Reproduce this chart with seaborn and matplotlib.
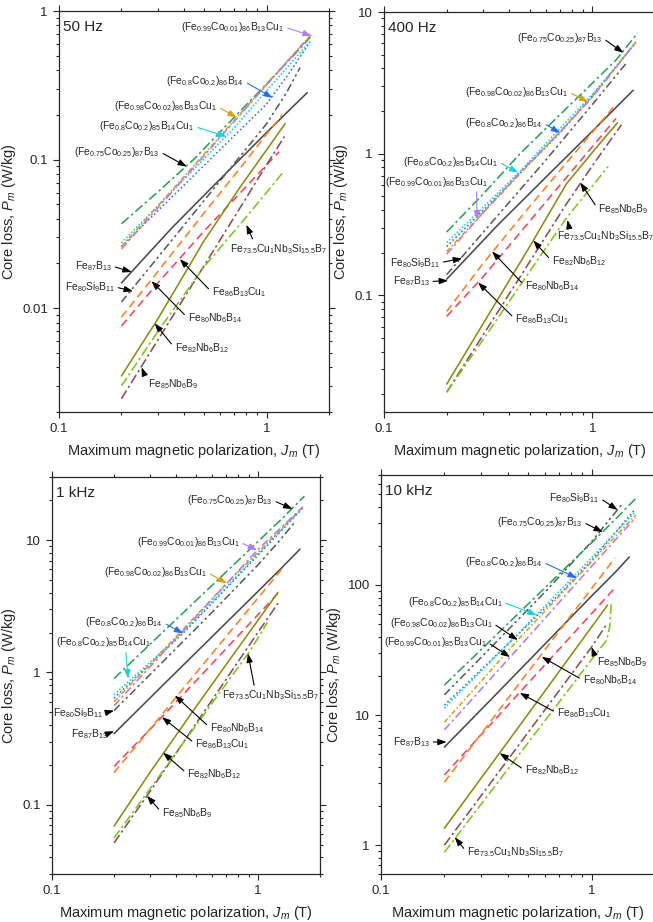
import pandas as pd
import matplotlib
matplotlib.use("Agg")
import matplotlib.pyplot as plt
import matplotlib.ticker as mticker
import seaborn as sns

# alloys, in drawing order
materials = ["Fe87B13", "Fe80Si9B11", "Fe86B13Cu1", "Fe80Nb6B14", "Fe82Nb6B12",
             "Fe85Nb6B9", "Fe73.5Cu1Nb3Si15.5B7", "(Fe0.75Co0.25)87B13",
             "(Fe0.8Co0.2)86B14", "(Fe0.8Co0.2)85B14Cu1",
             "(Fe0.98Co0.02)86B13Cu1", "(Fe0.99Co0.01)86B13Cu1"]

labels = {
    "Fe87B13": r"Fe$_{87}$B$_{13}$",
    "Fe80Si9B11": r"Fe$_{80}$Si$_9$B$_{11}$",
    "Fe86B13Cu1": r"Fe$_{86}$B$_{13}$Cu$_1$",
    "Fe80Nb6B14": r"Fe$_{80}$Nb$_6$B$_{14}$",
    "Fe82Nb6B12": r"Fe$_{82}$Nb$_6$B$_{12}$",
    "Fe85Nb6B9": r"Fe$_{85}$Nb$_6$B$_9$",
    "Fe73.5Cu1Nb3Si15.5B7": r"Fe$_{73.5}$Cu$_1$Nb$_3$Si$_{15.5}$B$_7$",
    "(Fe0.75Co0.25)87B13": r"(Fe$_{0.75}$Co$_{0.25}$)$_{87}$B$_{13}$",
    "(Fe0.8Co0.2)86B14": r"(Fe$_{0.8}$Co$_{0.2}$)$_{86}$B$_{14}$",
    "(Fe0.8Co0.2)85B14Cu1": r"(Fe$_{0.8}$Co$_{0.2}$)$_{85}$B$_{14}$Cu$_1$",
    "(Fe0.98Co0.02)86B13Cu1": r"(Fe$_{0.98}$Co$_{0.02}$)$_{86}$B$_{13}$Cu$_1$",
    "(Fe0.99Co0.01)86B13Cu1": r"(Fe$_{0.99}$Co$_{0.01}$)$_{86}$B$_{13}$Cu$_1$",
    "(Fe0.99Co0.01)85B13Cu1": r"(Fe$_{0.99}$Co$_{0.01}$)$_{85}$B$_{13}$Cu$_1$",
}

colors = ["#4a4a4a", "#5c5c5c", "#f0485a", "#ff7f24", "#8c8c14", "#8b4f4f",
          "#7cc424", "#2ca05a", "#2a6fe0", "#1ccfe0", "#d4a017", "#b07cf0"]
dash_list = ["", (5, 2, 1.5, 2, 1.5, 2), (5, 3), (5, 3), "", (6, 2, 1.5, 2),
             (6, 2, 1.5, 2), (6, 2, 1.5, 2), (1, 1.6), (1, 1.2), (3, 1.5, 1, 1.5),
             (5, 2, 1.5, 2)]

# ---- 50 Hz : J (T) and P (W/kg) ----
hz50_J = [
    [0.2, 0.35, 0.6, 1.0, 1.3, 1.57],
    [0.2, 0.35, 0.6, 1.0, 1.25, 1.45],
    [0.2, 0.3, 0.5, 0.8, 1.0, 1.15],
    [0.2, 0.3, 0.5, 0.8, 1.0, 1.19],
    [0.2, 0.3, 0.5, 0.75, 1.0, 1.23],
    [0.2, 0.3, 0.5, 0.75, 1.0, 1.22],
    [0.2, 0.3, 0.5, 0.75, 1.0, 1.2],
    [0.2, 0.3, 0.45, 0.7, 1.0, 1.3, 1.63],
    [0.2, 0.3, 0.45, 0.7, 1.0, 1.3, 1.62],
    [0.2, 0.3, 0.45, 0.7, 1.0, 1.3, 1.62],
    [0.2, 0.3, 0.45, 0.7, 1.0, 1.3, 1.62],
    [0.2, 0.3, 0.45, 0.7, 1.0, 1.3, 1.64],
]
hz50_P = [
    [0.0148, 0.0347, 0.0743, 0.152, 0.218, 0.282],
    [0.011, 0.0287, 0.0724, 0.174, 0.283, 0.416],
    [0.0076, 0.0148, 0.033, 0.066, 0.092, 0.113],
    [0.0087, 0.0177, 0.0437, 0.099, 0.148, 0.2],
    [0.0035, 0.0085, 0.0284, 0.066, 0.116, 0.175],
    [0.00246, 0.00613, 0.0193, 0.048, 0.092, 0.143],
    [0.003, 0.007, 0.019, 0.037, 0.06, 0.082],
    [0.037, 0.0607, 0.1015, 0.193, 0.323, 0.474, 0.67],
    [0.026, 0.0453, 0.079, 0.145, 0.236, 0.39, 0.62],
    [0.0275, 0.049, 0.087, 0.164, 0.29, 0.44, 0.625],
    [0.026, 0.049, 0.092, 0.184, 0.32, 0.484, 0.68],
    [0.025, 0.0475, 0.09, 0.181, 0.318, 0.48, 0.69],
]

# ---- 400 Hz ----
hz400_J = [
    [0.2, 0.35, 0.6, 1.0, 1.3, 1.57],
    [0.2, 0.35, 0.6, 1.0, 1.25, 1.45],
    [0.2, 0.3, 0.5, 0.8, 1.05, 1.3],
    [0.2, 0.3, 0.5, 0.8, 1.05, 1.28],
    [0.2, 0.3, 0.5, 0.75, 1.0, 1.2, 1.32],
    [0.2, 0.3, 0.5, 0.75, 1.0, 1.2, 1.38],
    [0.2, 0.3, 0.5, 0.75, 1.0, 1.19],
    [0.2, 0.3, 0.45, 0.7, 1.0, 1.3, 1.65],
    [0.2, 0.3, 0.45, 0.7, 1.0, 1.3, 1.62],
    [0.2, 0.3, 0.45, 0.7, 1.0, 1.3, 1.62],
    [0.2, 0.3, 0.45, 0.7, 1.0, 1.3, 1.62],
    [0.2, 0.3, 0.45, 0.7, 1.0, 1.3, 1.62],
]
hz400_P = [
    [0.13, 0.311, 0.684, 1.44, 2.12, 2.8],
    [0.14, 0.363, 0.906, 2.22, 3.31, 4.32],
    [0.071, 0.136, 0.333, 0.757, 1.22, 1.77],
    [0.077, 0.169, 0.423, 0.96, 1.545, 2.18],
    [0.0236, 0.0635, 0.22, 0.61, 1.02, 1.4, 1.65],
    [0.0207, 0.0528, 0.172, 0.44, 0.82, 1.2, 1.6],
    [0.0207, 0.049, 0.147, 0.35, 0.59, 0.81],
    [0.28, 0.52, 1.0, 1.886, 3.14, 4.58, 7.1],
    [0.221, 0.40, 0.73, 1.4, 2.57, 4.13, 6.1],
    [0.236, 0.42, 0.75, 1.51, 2.62, 4.1, 6.1],
    [0.204, 0.384, 0.72, 1.43, 2.52, 4.09, 6.15],
    [0.195, 0.385, 0.74, 1.42, 2.5, 4.05, 6.2],
]

# ---- 1 kHz ----
khz1_J = [
    [0.2, 0.35, 0.6, 1.0, 1.3, 1.6],
    [0.2, 0.35, 0.6, 1.0, 1.25, 1.5],
    [0.2, 0.3, 0.5, 0.8, 1.05, 1.25],
    [0.2, 0.3, 0.5, 0.8, 1.05, 1.3],
    [0.2, 0.3, 0.5, 0.75, 1.0, 1.25],
    [0.2, 0.3, 0.5, 0.75, 1.0, 1.25],
    [0.2, 0.3, 0.5, 0.75, 0.9, 1.0, 1.11],
    [0.2, 0.3, 0.45, 0.7, 1.0, 1.3, 1.68],
    [0.2, 0.3, 0.45, 0.7, 1.0, 1.3, 1.65],
    [0.2, 0.3, 0.45, 0.7, 1.0, 1.3, 1.65],
    [0.2, 0.3, 0.45, 0.7, 1.0, 1.3, 1.65],
    [0.2, 0.3, 0.45, 0.7, 1.0, 1.3, 1.65],
]
khz1_P = [
    [0.345, 0.818, 1.87, 4.1, 6.15, 8.56],
    [0.515, 1.23, 2.86, 6.5, 9.6, 13.5],
    [0.195, 0.373, 0.864, 1.89, 2.96, 3.96],
    [0.175, 0.376, 0.99, 2.4, 4.0, 6.0],
    [0.069, 0.177, 0.55, 1.33, 2.48, 4.03],
    [0.0515, 0.127, 0.41, 1.04, 2.01, 3.33],
    [0.056, 0.133, 0.398, 0.95, 1.4, 1.82, 2.39],
    [0.9, 1.64, 2.99, 5.74, 9.76, 14.4, 21.5],
    [0.64, 1.16, 2.1, 4.31, 7.7, 11.8, 17.5],
    [0.68, 1.2, 2.15, 4.4, 7.9, 12.0, 17.6],
    [0.6, 1.16, 2.26, 4.66, 8.1, 12.2, 17.8],
    [0.56, 1.11, 2.2, 4.65, 8.5, 12.5, 17.8],
]

# ---- 10 kHz ----
khz10_J = [
    [0.2, 0.35, 0.6, 1.0, 1.3, 1.51],
    [0.2, 0.35, 0.6, 1.0, 1.2, 1.4],
    [0.2, 0.3, 0.5, 0.8, 1.05, 1.29],
    [0.2, 0.3, 0.5, 0.8, 1.05, 1.29],
    [0.2, 0.3, 0.5, 0.75, 1.0, 1.19],
    [0.2, 0.3, 0.5, 0.75, 1.0, 1.18],
    [0.2, 0.3, 0.5, 0.75, 1.0, 1.18, 1.22, 1.24],
    [0.2, 0.3, 0.45, 0.7, 1.0, 1.3, 1.63],
    [0.2, 0.3, 0.45, 0.7, 1.0, 1.3, 1.6],
    [0.2, 0.3, 0.45, 0.7, 1.0, 1.3, 1.6],
    [0.2, 0.3, 0.45, 0.7, 1.0, 1.3, 1.62],
    [0.2, 0.3, 0.45, 0.7, 1.0, 1.3, 1.62],
]
khz10_P = [
    [5.67, 14.3, 35.1, 82.2, 126, 164],
    [14.3, 36, 88, 215, 310, 420],
    [3.46, 7.11, 17.6, 40.5, 65.7, 95],
    [3.05, 7.23, 21.5, 58.6, 104, 161],
    [1.35, 3.3, 10.2, 25.1, 47.5, 70],
    [1.0, 2.42, 7.37, 17.8, 33.3, 50],
    [0.88, 2.08, 6.14, 14.5, 26.7, 37.8, 48, 72],
    [17, 32, 60.5, 121, 211, 321, 467],
    [11.9, 22.4, 42.1, 84, 154, 254, 377],
    [11.3, 21.9, 42.5, 88.9, 162, 253, 360],
    [8.8, 18.3, 38.3, 81.8, 151, 237, 345],
    [7.7, 15.9, 32.9, 73.2, 139, 223, 330],
]

# annotations: label, text x, text y, arrow tip x, tip y, alignment, arrow colour
notes_50hz = [
    ("(Fe0.99Co0.01)86B13Cu1", 1.22, 0.78, 1.65, 0.68, "right", "#b07cf0"),
    ("(Fe0.8Co0.2)86B14", 0.78, 0.337, 1.07, 0.26, "right", "#2a6fe0"),
    ("(Fe0.98Co0.02)86B13Cu1", 0.58, 0.228, 0.718, 0.192, "right", "#d4a017"),
    ("(Fe0.8Co0.2)85B14Cu1", 0.45, 0.167, 0.64, 0.143, "right", "#1ccfe0"),
    ("(Fe0.75Co0.25)87B13", 0.306, 0.113, 0.413, 0.0897, "right", "k"),
    ("Fe87B13", 0.18, 0.0192, 0.224, 0.0175, "right", "k"),
    ("Fe80Si9B11", 0.186, 0.0139, 0.227, 0.013, "right", "k"),
    ("Fe86B13Cu1", 0.545, 0.0128, 0.382, 0.0214, "left", "k"),
    ("Fe80Nb6B14", 0.417, 0.0086, 0.279, 0.0152, "left", "k"),
    ("Fe82Nb6B12", 0.361, 0.0054, 0.289, 0.0079, "left", "k"),
    ("Fe85Nb6B9", 0.268, 0.0031, 0.25, 0.004, "left", "k"),
    ("Fe73.5Cu1Nb3Si15.5B7", 0.664, 0.025, 0.8, 0.0364, "left", "k"),
]
notes_400hz = [
    ("(Fe0.75Co0.25)87B13", 1.12, 6.56, 1.41, 5.15, "right", "k"),
    ("(Fe0.98Co0.02)86B13Cu1", 0.768, 2.73, 0.955, 2.32, "right", "#d4a017"),
    ("(Fe0.8Co0.2)86B14", 0.58, 1.65, 0.7, 1.4, "right", "#2a6fe0"),
    ("(Fe0.8Co0.2)85B14Cu1", 0.353, 0.878, 0.441, 0.735, "right", "#1ccfe0"),
    ("(Fe0.99Co0.01)86B13Cu1", 0.178, 0.635, 0.28, 0.343, "center", "#b07cf0"),
    ("Fe85Nb6B9", 1.07, 0.403, 0.875, 0.625, "left", "k"),
    ("Fe73.5Cu1Nb3Si15.5B7", 0.68, 0.26, 0.76, 0.34, "left", "k"),
    ("Fe82Nb6B12", 0.64, 0.174, 0.52, 0.244, "left", "k"),
    ("Fe80Nb6B14", 0.476, 0.116, 0.33, 0.204, "left", "k"),
    ("Fe86B13Cu1", 0.426, 0.068, 0.283, 0.123, "left", "k"),
    ("Fe80Si9B11", 0.186, 0.17, 0.237, 0.182, "right", "k"),
    ("Fe87B13", 0.166, 0.125, 0.203, 0.127, "right", "k"),
]
notes_1khz = [
    ("(Fe0.75Co0.25)87B13", 1.18, 20, 1.47, 17.2, "right", "k"),
    ("(Fe0.99Co0.01)86B13Cu1", 0.816, 9.66, 0.99, 8.4, "right", "#b07cf0"),
    ("(Fe0.98Co0.02)86B13Cu1", 0.565, 5.72, 0.706, 4.72, "right", "#d4a017"),
    ("(Fe0.8Co0.2)86B14", 0.346, 2.39, 0.433, 1.97, "right", "#2a6fe0"),
    ("(Fe0.8Co0.2)85B14Cu1", 0.177, 1.69, 0.234, 0.9, "center", "#1ccfe0"),
    ("Fe73.5Cu1Nb3Si15.5B7", 0.669, 0.67, 0.894, 1.39, "left", "k"),
    ("Fe80Si9B11", 0.177, 0.49, 0.2, 0.515, "right", "k"),
    ("Fe87B13", 0.187, 0.345, 0.2, 0.36, "right", "k"),
    ("Fe80Nb6B14", 0.584, 0.383, 0.395, 0.67, "left", "k"),
    ("Fe86B13Cu1", 0.495, 0.29, 0.342, 0.46, "left", "k"),
    ("Fe82Nb6B12", 0.453, 0.172, 0.346, 0.248, "left", "k"),
    ("Fe85Nb6B9", 0.342, 0.087, 0.289, 0.117, "left", "k"),
]
notes_10khz = [
    ("Fe80Si9B11", 1.09, 467, 1.33, 377, "right", "k"),
    ("(Fe0.75Co0.25)87B13", 0.906, 305, 1.13, 255, "right", "k"),
    ("(Fe0.8Co0.2)86B14", 0.586, 150, 0.85, 113, "right", "#2a6fe0"),
    ("(Fe0.8Co0.2)85B14Cu1", 0.378, 74, 0.548, 58.8, "right", "#1ccfe0"),
    ("(Fe0.98Co0.02)86B13Cu1", 0.339, 51, 0.446, 37.7, "right", "k"),
    ("(Fe0.99Co0.01)85B13Cu1", 0.318, 36.5, 0.41, 27.9, "right", "k"),
    ("Fe85Nb6B9", 1.06, 25.6, 1.0, 33.3, "left", "k"),
    ("Fe80Nb6B14", 0.906, 18.6, 0.58, 28, "left", "k"),
    ("Fe86B13Cu1", 0.682, 10.4, 0.456, 14.8, "left", "k"),
    ("Fe82Nb6B12", 0.481, 3.77, 0.366, 5.1, "left", "k"),
    ("Fe73.5Cu1Nb3Si15.5B7", 0.256, 0.88, 0.224, 1.15, "left", "k"),
    ("Fe87B13", 0.171, 6.2, 0.205, 6.2, "right", "k"),
]

# where the arrow leaves the label (fraction of label width) when not at its side
arrow_start = {("400 Hz", "(Fe0.99Co0.01)86B13Cu1"): 0.89,
               ("1 kHz", "(Fe0.8Co0.2)85B14Cu1"): 0.73,
               ("50 Hz", "Fe73.5Cu1Nb3Si15.5B7"): 0.28,
               ("400 Hz", "Fe73.5Cu1Nb3Si15.5B7"): 0.14,
               ("1 kHz", "Fe73.5Cu1Nb3Si15.5B7"): 0.35}

sns.set_style("ticks")
plt.rcParams["font.family"] = ["Liberation Sans", "DejaVu Sans"]
plt.rcParams["mathtext.fontset"] = "custom"
plt.rcParams["mathtext.rm"] = "Liberation Sans"
plt.rcParams["mathtext.it"] = "Liberation Sans:italic"
plt.rcParams["mathtext.default"] = "regular"

W, H = 653, 922
fig = plt.figure(figsize=(W / 100, H / 100), dpi=100)

# (title, J, P, y-limits, notes, axes box in pixels: left, top, right, bottom)
panels = [
    ("50 Hz", hz50_J, hz50_P, (0.002, 1), notes_50hz, (59, 11, 329, 412)),
    ("400 Hz", hz400_J, hz400_P, (0.015, 10), notes_400hz, (384, 12, 655, 412)),
    ("1 kHz", khz1_J, khz1_P, (0.03, 30), notes_1khz, (52, 477, 320, 874)),
    ("10 kHz", khz10_J, khz10_P, (0.6, 700), notes_10khz, (381, 475, 655, 874)),
]

palette = dict(zip(materials, colors))
dashes = dict(zip(materials, dash_list))

for title, Js, Ps, ylim, notes, (l, t, r, b) in panels:
    ax = fig.add_axes([l / W, 1 - b / H, (r - l) / W, (b - t) / H])
    rows = []
    for name, js, ps in zip(materials, Js, Ps):
        for j, p in zip(js, ps):
            rows.append((name, j, p))
    df = pd.DataFrame(rows, columns=["material", "J", "P"])
    sns.lineplot(data=df, x="J", y="P", hue="material", style="material",
                 hue_order=materials, style_order=materials, palette=palette,
                 dashes=dashes, estimator=None, sort=False, legend=False,
                 lw=1.15, ax=ax)
    ax.set_xscale("log")
    ax.set_yscale("log")
    ax.set_xlim(0.1, 2)
    ax.set_ylim(*ylim)
    ax.xaxis.set_major_formatter(mticker.FormatStrFormatter("%g"))
    ax.yaxis.set_major_formatter(mticker.FormatStrFormatter("%g"))
    ax.xaxis.set_minor_formatter(mticker.NullFormatter())
    ax.yaxis.set_minor_formatter(mticker.NullFormatter())
    ax.tick_params(which="both", direction="out", top=True, right=True,
                   labelsize=9.5, width=0.8)
    ax.tick_params(which="major", length=4.5)
    ax.tick_params(which="minor", length=2.5)
    for s in ax.spines.values():
        s.set_linewidth(0.9)
    ax.set_xlabel(r"Maximum magnetic polarization, $\mathit{J_m}$ (T)", fontsize=10.5, labelpad=5)
    ax.set_ylabel(r"Core loss, $\mathit{P_m}$ (W/kg)", fontsize=10.5, labelpad=3)
    ax.text(0.015, 0.96, title, transform=ax.transAxes, fontsize=11, va="center")

    for key, tx, ty, px, py, ha, col in notes:
        if ha == "right":
            rel = (1, 0.5)
        elif ha == "left":
            rel = (0, 0.5)
        else:
            rel = (0.5, 0.5)
        if (title, key) in arrow_start:
            rel = (arrow_start[(title, key)], 0.5)
        ax.annotate(labels[key], xy=(px, py), xytext=(tx, ty), ha=ha, va="center",
                    fontsize=7.4, annotation_clip=False,
                    arrowprops=dict(arrowstyle="-|>,head_length=0.7,head_width=0.25",
                                    color=col, lw=0.8, relpos=rel,
                                    shrinkA=0, shrinkB=0))

fig.savefig("out.png", dpi=100)
